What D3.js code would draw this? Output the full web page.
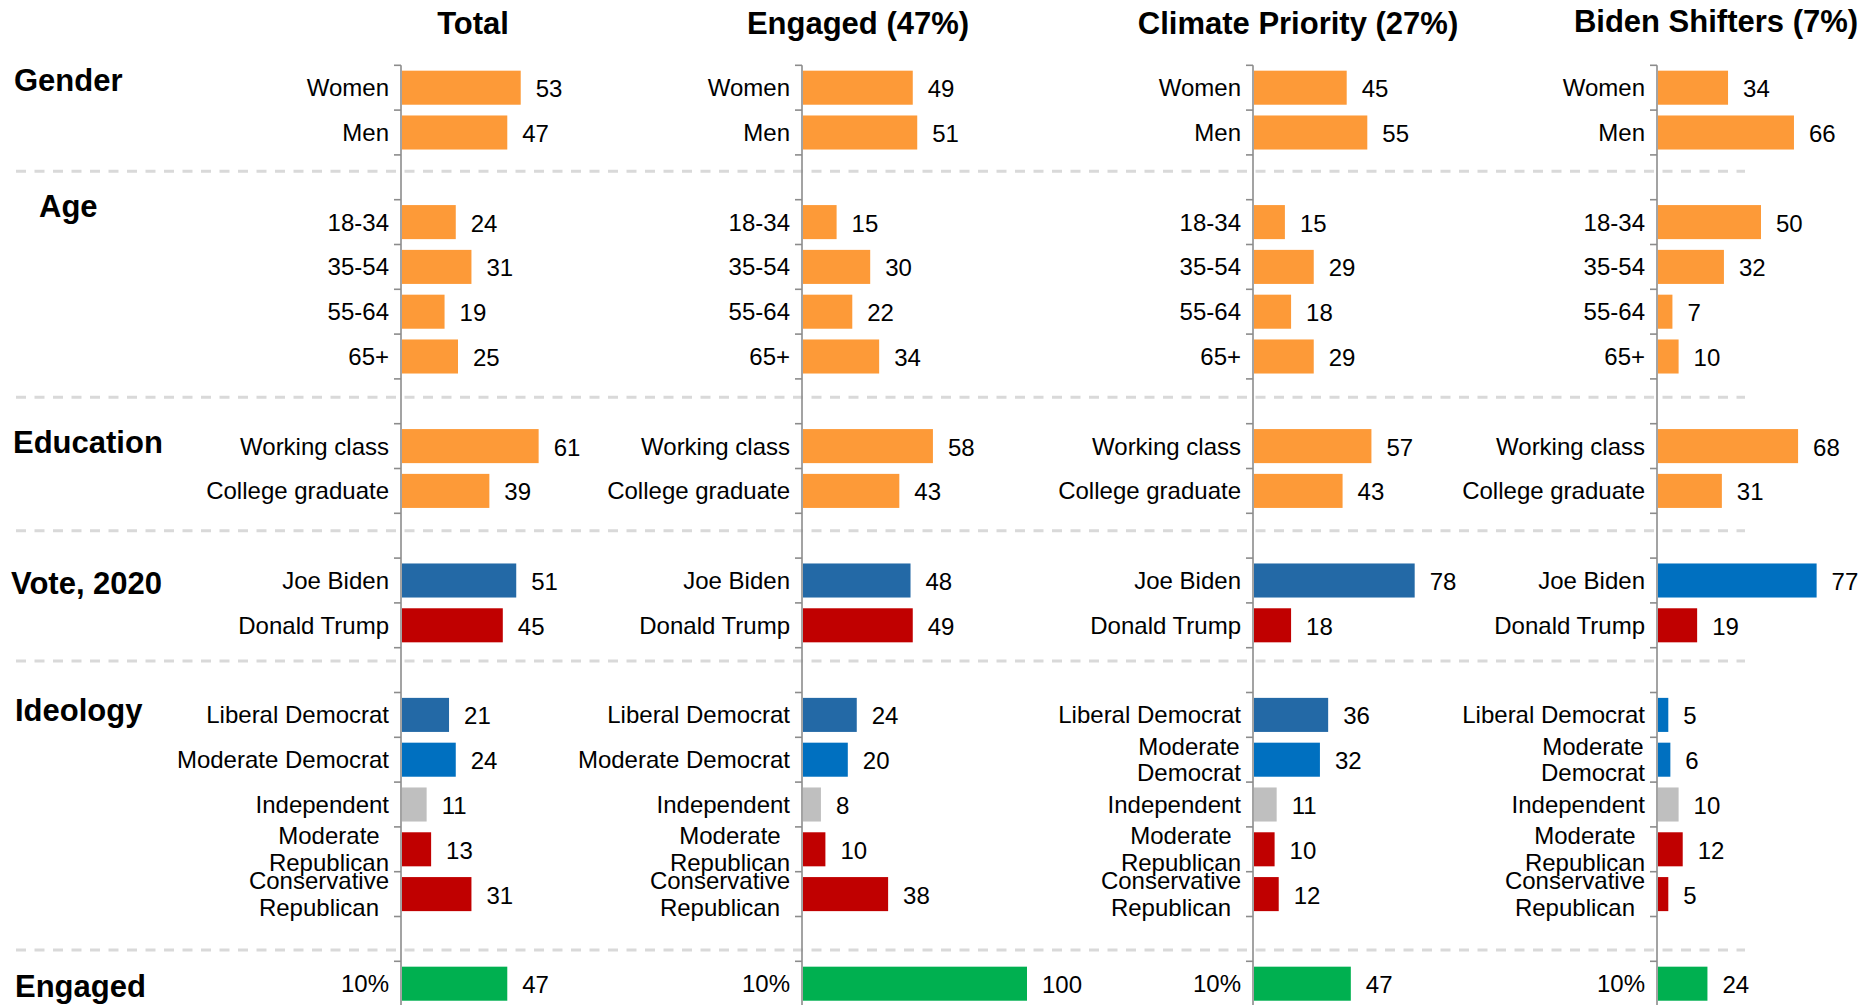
<!DOCTYPE html>
<html>
<head>
<meta charset="utf-8">
<script src="https://cdn.jsdelivr.net/npm/d3@7"></script>
<style>
  body { margin: 0; background: #fff; }
  svg text { font-family: "Liberation Sans", Arial, sans-serif; fill: #000; }
  .cat, .val { font-size: 24px; }
  .title, .group { font-size: 31px; font-weight: bold; }
</style>
</head>
<body>
<svg id="chart" width="1874" height="1005"></svg>
<script>
// ---- data ----
var columns = ["Total", "Engaged (47%)", "Climate Priority (27%)", "Biden Shifters (7%)"];
var groups = ["Gender", "Age", "Education", "Vote, 2020", "Ideology", "Engaged"];
var categories = [
    ["Women", "Men"],
    ["18-34", "35-54", "55-64", "65+"],
    ["Working class", "College graduate"],
    ["Joe Biden", "Donald Trump"],
    ["Liberal Democrat", "Moderate Democrat", "Independent", "Moderate Republican", "Conservative Republican"],
    ["10%"]
];
var totalValues    = [53, 47, 24, 31, 19, 25, 61, 39, 51, 45, 21, 24, 11, 13, 31, 47];
var engagedValues  = [49, 51, 15, 30, 22, 34, 58, 43, 48, 49, 24, 20, 8, 10, 38, 100];
var climateValues  = [45, 55, 15, 29, 18, 29, 57, 43, 78, 18, 36, 32, 11, 10, 12, 47];
var shifterValues  = [34, 66, 50, 32, 7, 10, 68, 31, 77, 19, 5, 6, 10, 12, 5, 24];
var columnValues = [totalValues, engagedValues, climateValues, shifterValues];

// ---- layout ----
var axisX = [401, 802, 1253, 1657];
var barRange = [224, 224, 206, 206];      // px for 100 units, per column
var titleX = [473, 858, 1298, 1716];
var titleY = [34, 34, 34, 32];
var wrapWidth = [220, 220, 195, 195];
var groupLabelX = [14, 39, 13, 11, 15, 15];
var groupLabelDy = [3, -5, 7, 13, 6, 13];
var sepDy = [-6, -4, -5, -9, 11];

var colorOf = {
    "Joe Biden": "#2369a6",
    "Donald Trump": "#c00000",
    "Liberal Democrat": "#2369a6",
    "Moderate Democrat": "#0070c0",
    "Independent": "#bfbfbf",
    "Moderate Republican": "#c00000",
    "Conservative Republican": "#c00000",
    "10%": "#00b050"
};
var shifterColorOf = { "Joe Biden": "#0070c0", "Liberal Democrat": "#0070c0" };

var svg = d3.select("#chart");

// slots: each category, with a blank slot between groups
var slots = [], rows = [], blanks = [];
groups.forEach(function (g, gi) {
    categories[gi].forEach(function (c, ci) {
        var id = gi + "-" + ci;
        slots.push(id);
        rows.push({ id: id, group: gi, cat: c, first: ci === 0 });
    });
    if (gi < groups.length - 1) {
        slots.push("blank" + gi);
        blanks.push("blank" + gi);
    }
});

var y = d3.scaleBand()
    .domain(slots)
    .range([65.3, 65.3 + 44.8 * slots.length])
    .paddingInner(0.24)
    .paddingOuter(0.12);
var step = y.step(), half = (step - y.bandwidth()) / 2;

// dashed separators
svg.append("g").selectAll("line")
    .data(blanks)
    .enter().append("line")
    .attr("x1", 16).attr("x2", 1745)
    .attr("y1", function (d, i) { return y(d) + y.bandwidth() / 2 + sepDy[i]; })
    .attr("y2", function (d, i) { return y(d) + y.bandwidth() / 2 + sepDy[i]; })
    .style("stroke", "#d9d9d9")
    .style("stroke-width", 3)
    .style("stroke-dasharray", "10,8.5");

// group labels
svg.append("g").selectAll("text")
    .data(rows.filter(function (r) { return r.first; }))
    .enter().append("text")
    .attr("class", "group")
    .attr("x", function (d) { return groupLabelX[d.group]; })
    .attr("y", function (d) { return y(d.id) + y.bandwidth() / 2 + groupLabelDy[d.group]; })
    .text(function (d) { return groups[d.group]; });

function drawLabel(g, label, rightX, cy, maxW) {
    var t = g.append("text").attr("class", "cat").text(label);
    if (t.node().getComputedTextLength() <= maxW) {
        t.attr("x", rightX).attr("y", cy).attr("dy", "0.35em").attr("text-anchor", "end");
        return;
    }
    var words = label.split(" "), lines = [], cur = "";
    words.forEach(function (w) {
        var test = cur ? cur + " " + w : w;
        t.text(test);
        if (t.node().getComputedTextLength() > maxW && cur) { lines.push(cur); cur = w; }
        else cur = test;
    });
    lines.push(cur);
    var widths = lines.map(function (l) { t.text(l); return t.node().getComputedTextLength(); });
    t.text(null);
    var maxLine = d3.max(widths), lh = 26.6;
    lines.forEach(function (l, i) {
        t.append("tspan")
            .attr("x", rightX - maxLine / 2)
            .attr("y", cy + (i - (lines.length - 1) / 2) * lh)
            .attr("dy", "0.35em")
            .attr("text-anchor", "middle")
            .text(l);
    });
}

columns.forEach(function (col, k) {
    var x0 = axisX[k];
    var x = d3.scaleLinear().domain([0, 100]).range([0, barRange[k]]);
    var vals = columnValues[k];
    var g = svg.append("g");

    g.append("text")
        .attr("class", "title")
        .attr("x", titleX[k]).attr("y", titleY[k])
        .attr("text-anchor", "middle")
        .text(col);

    g.selectAll("rect")
        .data(rows)
        .enter().append("rect")
        .attr("x", x0 + 1)
        .attr("y", function (d) { return y(d.id); })
        .attr("height", y.bandwidth())
        .attr("width", function (d, i) { return x(vals[i]); })
        .style("fill", function (d) {
            if (k === 3 && shifterColorOf[d.cat]) return shifterColorOf[d.cat];
            return colorOf[d.cat] || "#fd9a38";
        });

    g.selectAll(".val")
        .data(rows)
        .enter().append("text")
        .attr("class", "val")
        .attr("x", function (d, i) { return x0 + x(vals[i]) + 16; })
        .attr("y", function (d) { return y(d.id) + y.bandwidth() / 2 + 1; })
        .attr("dy", "0.35em")
        .text(function (d, i) { return vals[i]; });

    rows.forEach(function (d) {
        drawLabel(g, d.cat, x0 - 12, y(d.id) + y.bandwidth() / 2, wrapWidth[k]);
    });

    // axis line and ticks at every slot boundary
    var ticks = slots.map(function (s) { return y(s) - half; });
    ticks.push(y(slots[slots.length - 1]) + y.bandwidth() + half);
    g.append("line")
        .attr("x1", x0).attr("x2", x0)
        .attr("y1", ticks[0]).attr("y2", 1005)
        .style("stroke", "#8c8c8c").style("stroke-width", 1.6);
    g.selectAll(".tick")
        .data(ticks)
        .enter().append("line")
        .attr("class", "tick")
        .attr("x1", x0 - 7).attr("x2", x0)
        .attr("y1", function (d) { return d; }).attr("y2", function (d) { return d; })
        .style("stroke", "#8c8c8c").style("stroke-width", 1.6);
});
</script>
</body>
</html>
